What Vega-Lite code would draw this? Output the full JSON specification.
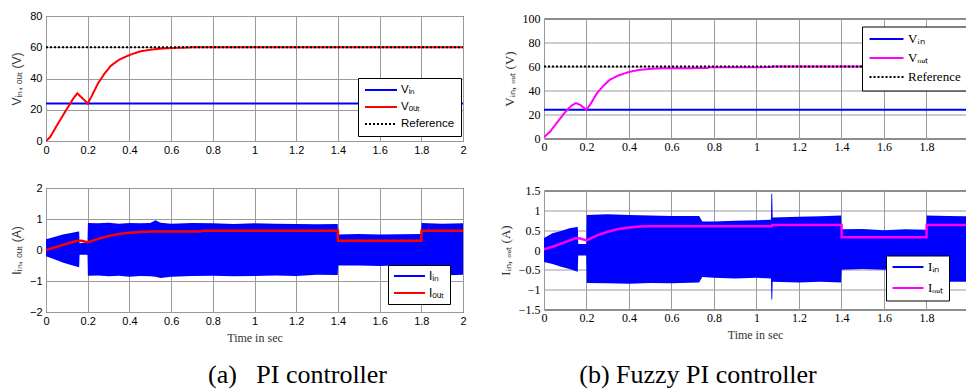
{
  "$schema": "https://vega.github.io/schema/vega-lite/v6.json",
  "background": "white",
  "padding": {"left": 9, "top": 9, "right": 0, "bottom": 0},
  "datasets": {
    "v_pi": [
      {"t": 0, "v": 24, "s": "Vᵢₙ"}, {"t": 2, "v": 24, "s": "Vᵢₙ"},
      {"t": 0, "v": 0, "s": "Vₒᵤₜ"}, {"t": 0.02, "v": 2.5, "s": "Vₒᵤₜ"}, {"t": 0.05, "v": 9.5, "s": "Vₒᵤₜ"}, {"t": 0.1, "v": 20.5, "s": "Vₒᵤₜ"},
      {"t": 0.13, "v": 27, "s": "Vₒᵤₜ"}, {"t": 0.15, "v": 30.5, "s": "Vₒᵤₜ"}, {"t": 0.17, "v": 28, "s": "Vₒᵤₜ"}, {"t": 0.2, "v": 24, "s": "Vₒᵤₜ"},
      {"t": 0.22, "v": 29, "s": "Vₒᵤₜ"}, {"t": 0.25, "v": 37, "s": "Vₒᵤₜ"}, {"t": 0.28, "v": 43, "s": "Vₒᵤₜ"}, {"t": 0.31, "v": 48, "s": "Vₒᵤₜ"},
      {"t": 0.35, "v": 52, "s": "Vₒᵤₜ"}, {"t": 0.4, "v": 55, "s": "Vₒᵤₜ"}, {"t": 0.45, "v": 57.3, "s": "Vₒᵤₜ"}, {"t": 0.5, "v": 58.4, "s": "Vₒᵤₜ"},
      {"t": 0.55, "v": 59.1, "s": "Vₒᵤₜ"}, {"t": 0.6, "v": 59.5, "s": "Vₒᵤₜ"}, {"t": 0.68, "v": 59.8, "s": "Vₒᵤₜ"}, {"t": 0.7, "v": 60, "s": "Vₒᵤₜ"}, {"t": 2, "v": 60, "s": "Vₒᵤₜ"},
      {"t": 0, "v": 60, "s": "Reference"}, {"t": 2, "v": 60, "s": "Reference"}
    ],
    "v_fz": [
      {"t": 0, "v": 24, "s": "Vᵢₙ"}, {"t": 2, "v": 24, "s": "Vᵢₙ"},
      {"t": 0, "v": 1, "s": "Vₒᵤₜ"}, {"t": 0.03, "v": 6, "s": "Vₒᵤₜ"}, {"t": 0.06, "v": 13, "s": "Vₒᵤₜ"}, {"t": 0.1, "v": 22, "s": "Vₒᵤₜ"},
      {"t": 0.13, "v": 27.5, "s": "Vₒᵤₜ"}, {"t": 0.15, "v": 29.5, "s": "Vₒᵤₜ"}, {"t": 0.17, "v": 28, "s": "Vₒᵤₜ"}, {"t": 0.2, "v": 24, "s": "Vₒᵤₜ"},
      {"t": 0.22, "v": 29, "s": "Vₒᵤₜ"}, {"t": 0.25, "v": 38, "s": "Vₒᵤₜ"}, {"t": 0.28, "v": 44, "s": "Vₒᵤₜ"}, {"t": 0.31, "v": 49, "s": "Vₒᵤₜ"},
      {"t": 0.35, "v": 52.5, "s": "Vₒᵤₜ"}, {"t": 0.4, "v": 55.5, "s": "Vₒᵤₜ"}, {"t": 0.45, "v": 57.2, "s": "Vₒᵤₜ"}, {"t": 0.5, "v": 58, "s": "Vₒᵤₜ"},
      {"t": 0.55, "v": 58.5, "s": "Vₒᵤₜ"}, {"t": 0.77, "v": 58.7, "s": "Vₒᵤₜ"}, {"t": 0.775, "v": 59.3, "s": "Vₒᵤₜ"}, {"t": 1.07, "v": 59.5, "s": "Vₒᵤₜ"},
      {"t": 1.075, "v": 60, "s": "Vₒᵤₜ"}, {"t": 2, "v": 60, "s": "Vₒᵤₜ"},
      {"t": 0, "v": 60, "s": "Reference"}, {"t": 2, "v": 60, "s": "Reference"}
    ],
    "iout_pi": [
      {"t": 0, "i": 0, "s": "Iₒᵤₜ"}, {"t": 0.05, "i": 0.1, "s": "Iₒᵤₜ"}, {"t": 0.1, "i": 0.2, "s": "Iₒᵤₜ"}, {"t": 0.15, "i": 0.3, "s": "Iₒᵤₜ"},
      {"t": 0.17, "i": 0.3, "s": "Iₒᵤₜ"}, {"t": 0.2, "i": 0.25, "s": "Iₒᵤₜ"}, {"t": 0.25, "i": 0.36, "s": "Iₒᵤₜ"}, {"t": 0.3, "i": 0.45, "s": "Iₒᵤₜ"},
      {"t": 0.35, "i": 0.52, "s": "Iₒᵤₜ"}, {"t": 0.4, "i": 0.56, "s": "Iₒᵤₜ"}, {"t": 0.45, "i": 0.58, "s": "Iₒᵤₜ"}, {"t": 0.5, "i": 0.6, "s": "Iₒᵤₜ"},
      {"t": 0.74, "i": 0.6, "s": "Iₒᵤₜ"}, {"t": 0.75, "i": 0.62, "s": "Iₒᵤₜ"}, {"t": 1.4, "i": 0.62, "s": "Iₒᵤₜ"}, {"t": 1.401, "i": 0.3, "s": "Iₒᵤₜ"},
      {"t": 1.8, "i": 0.3, "s": "Iₒᵤₜ"}, {"t": 1.801, "i": 0.62, "s": "Iₒᵤₜ"}, {"t": 2, "i": 0.62, "s": "Iₒᵤₜ"}
    ],
    "iout_fz": [
      {"t": 0, "i": 0.02, "s": "Iₒᵤₜ"}, {"t": 0.05, "i": 0.1, "s": "Iₒᵤₜ"}, {"t": 0.1, "i": 0.2, "s": "Iₒᵤₜ"}, {"t": 0.15, "i": 0.3, "s": "Iₒᵤₜ"},
      {"t": 0.17, "i": 0.29, "s": "Iₒᵤₜ"}, {"t": 0.2, "i": 0.24, "s": "Iₒᵤₜ"}, {"t": 0.25, "i": 0.37, "s": "Iₒᵤₜ"}, {"t": 0.3, "i": 0.46, "s": "Iₒᵤₜ"},
      {"t": 0.35, "i": 0.53, "s": "Iₒᵤₜ"}, {"t": 0.4, "i": 0.57, "s": "Iₒᵤₜ"}, {"t": 0.45, "i": 0.59, "s": "Iₒᵤₜ"}, {"t": 0.5, "i": 0.6, "s": "Iₒᵤₜ"},
      {"t": 1.07, "i": 0.6, "s": "Iₒᵤₜ"}, {"t": 1.075, "i": 0.63, "s": "Iₒᵤₜ"}, {"t": 1.4, "i": 0.63, "s": "Iₒᵤₜ"}, {"t": 1.401, "i": 0.32, "s": "Iₒᵤₜ"},
      {"t": 1.8, "i": 0.32, "s": "Iₒᵤₜ"}, {"t": 1.801, "i": 0.63, "s": "Iₒᵤₜ"}, {"t": 2, "i": 0.63, "s": "Iₒᵤₜ"}
    ],
    "iin_pi": [
      {"t": 0, "i": -0.2, "hi": 0.35}, {"t": 0.04, "i": -0.3, "hi": 0.42}, {"t": 0.08, "i": -0.4, "hi": 0.5}, {"t": 0.12, "i": -0.48, "hi": 0.55},
      {"t": 0.155, "i": -0.55, "hi": 0.6}, {"t": 0.159, "i": -0.56, "hi": 0.6}, {"t": 0.161, "i": -0.15, "hi": 0.22}, {"t": 0.199, "i": -0.15, "hi": 0.25},
      {"t": 0.201, "i": -0.83, "hi": 0.87}, {"t": 0.25, "i": -0.82, "hi": 0.86}, {"t": 0.3, "i": -0.85, "hi": 0.88}, {"t": 0.35, "i": -0.83, "hi": 0.85},
      {"t": 0.4, "i": -0.86, "hi": 0.87}, {"t": 0.45, "i": -0.84, "hi": 0.86}, {"t": 0.5, "i": -0.85, "hi": 0.87}, {"t": 0.525, "i": -0.86, "hi": 0.96},
      {"t": 0.55, "i": -0.9, "hi": 0.88}, {"t": 0.6, "i": -0.86, "hi": 0.85}, {"t": 0.7, "i": -0.84, "hi": 0.87}, {"t": 0.8, "i": -0.83, "hi": 0.86},
      {"t": 0.9, "i": -0.85, "hi": 0.84}, {"t": 1.0, "i": -0.84, "hi": 0.86}, {"t": 1.1, "i": -0.82, "hi": 0.85}, {"t": 1.2, "i": -0.84, "hi": 0.84},
      {"t": 1.3, "i": -0.8, "hi": 0.83}, {"t": 1.399, "i": -0.81, "hi": 0.84}, {"t": 1.401, "i": -0.5, "hi": 0.5}, {"t": 1.5, "i": -0.5, "hi": 0.52},
      {"t": 1.6, "i": -0.52, "hi": 0.5}, {"t": 1.7, "i": -0.49, "hi": 0.51}, {"t": 1.799, "i": -0.5, "hi": 0.52}, {"t": 1.801, "i": -0.8, "hi": 0.87},
      {"t": 1.9, "i": -0.82, "hi": 0.85}, {"t": 2, "i": -0.8, "hi": 0.86}
    ],
    "iin_fz": [
      {"t": 0, "i": -0.3, "hi": 0.3}, {"t": 0.04, "i": -0.35, "hi": 0.42}, {"t": 0.08, "i": -0.42, "hi": 0.48}, {"t": 0.12, "i": -0.48, "hi": 0.55},
      {"t": 0.155, "i": -0.54, "hi": 0.58}, {"t": 0.159, "i": -0.55, "hi": 0.58}, {"t": 0.161, "i": -0.14, "hi": 0.15}, {"t": 0.199, "i": -0.14, "hi": 0.15},
      {"t": 0.201, "i": -0.83, "hi": 0.88}, {"t": 0.3, "i": -0.84, "hi": 0.9}, {"t": 0.4, "i": -0.85, "hi": 0.88}, {"t": 0.5, "i": -0.83, "hi": 0.87},
      {"t": 0.6, "i": -0.84, "hi": 0.86}, {"t": 0.73, "i": -0.82, "hi": 0.86}, {"t": 0.745, "i": -0.68, "hi": 0.72}, {"t": 0.8, "i": -0.7, "hi": 0.72},
      {"t": 0.9, "i": -0.72, "hi": 0.74}, {"t": 1.0, "i": -0.7, "hi": 0.75}, {"t": 1.068, "i": -0.72, "hi": 0.76}, {"t": 1.07, "i": -1.25, "hi": 1.42},
      {"t": 1.074, "i": -1.25, "hi": 1.42}, {"t": 1.076, "i": -0.8, "hi": 0.82}, {"t": 1.2, "i": -0.82, "hi": 0.84}, {"t": 1.3, "i": -0.8, "hi": 0.85},
      {"t": 1.398, "i": -0.82, "hi": 0.87}, {"t": 1.401, "i": -0.5, "hi": 0.52}, {"t": 1.5, "i": -0.48, "hi": 0.53}, {"t": 1.6, "i": -0.5, "hi": 0.5},
      {"t": 1.7, "i": -0.48, "hi": 0.52}, {"t": 1.798, "i": -0.5, "hi": 0.51}, {"t": 1.801, "i": -0.82, "hi": 0.87}, {"t": 1.9, "i": -0.8, "hi": 0.86},
      {"t": 1.99, "i": -0.8, "hi": 0.85}
    ]
  },
  "vconcat": [
    {
      "vconcat": [
        {
          "hconcat": [
            {
              "width": 417, "height": 125,
              "data": {"name": "v_pi"},
              "mark": {"type": "line", "strokeWidth": 2, "clip": true},
              "encoding": {
                "x": {"field": "t", "type": "quantitative", "scale": {"domain": [0, 2], "nice": false, "zero": false},
                  "axis": {"values": [0, 0.2, 0.4, 0.6, 0.8, 1, 1.2, 1.4, 1.6, 1.8, 2], "format": ".1~f", "title": null, "labelFont": "Liberation Sans", "labelFontSize": 11, "labelPadding": 3, "labelFlush": false, "labelOverlap": false}},
                "y": {"field": "v", "type": "quantitative", "scale": {"domain": [0, 80], "nice": false},
                  "axis": {"values": [0, 20, 40, 60, 80], "format": "d", "title": "Vᵢₙ, ₒᵤₜ (V)", "titleFont": "Liberation Sans", "titleFontSize": 12, "titleFontWeight": "normal", "titlePadding": 6, "labelFont": "Liberation Sans", "labelFontSize": 11, "labelPadding": 4, "labelFlush": false, "labelOverlap": false}},
                "color": {"field": "s", "type": "nominal", "scale": {"domain": ["Vᵢₙ", "Vₒᵤₜ", "Reference"], "range": ["#0000ff", "#ff0000", "#000000"]},
                  "legend": {"title": null, "orient": "none", "legendX": 312, "legendY": 62, "fillColor": "white", "strokeColor": "black", "padding": 6, "symbolType": "M-1,0H5.4", "symbolSize": 100, "symbolStrokeWidth": 2, "labelFont": "Liberation Sans", "labelFontSize": 11.5, "rowPadding": 5, "labelOffset": 25}},
                "strokeDash": {"field": "s", "type": "nominal", "scale": {"domain": ["Vᵢₙ", "Vₒᵤₜ", "Reference"], "range": [[1, 0], [1, 0], [2, 2]]},
                  "legend": {"title": null, "orient": "none", "legendX": 312, "legendY": 62, "fillColor": "white", "strokeColor": "black", "padding": 6, "symbolType": "M-1,0H5.4", "symbolSize": 100, "symbolStrokeWidth": 2, "labelFont": "Liberation Sans", "labelFontSize": 11.5, "rowPadding": 5, "labelOffset": 25}}
              }
            },
            {
              "width": 422, "height": 120,
              "data": {"name": "v_fz"},
              "mark": {"type": "line", "strokeWidth": 2, "clip": true},
              "encoding": {
                "x": {"field": "t", "type": "quantitative", "scale": {"domain": [0, 1.986], "nice": false, "zero": false},
                  "axis": {"values": [0, 0.2, 0.4, 0.6, 0.8, 1, 1.2, 1.4, 1.6, 1.8], "format": ".1~f", "title": null, "labelFont": "Liberation Serif", "labelFontSize": 12, "labelPadding": 3, "labelFlush": false, "labelOverlap": false}},
                "y": {"field": "v", "type": "quantitative", "scale": {"domain": [0, 100], "nice": false},
                  "axis": {"values": [0, 20, 40, 60, 80, 100], "format": "d", "title": "Vᵢₙ, ₒᵤₜ (V)", "titleFont": "Liberation Serif", "titleFontSize": 13, "titleFontWeight": "normal", "titlePadding": 6, "labelFont": "Liberation Serif", "labelFontSize": 12, "labelPadding": 4, "labelFlush": false, "labelOverlap": false}},
                "color": {"field": "s", "type": "nominal", "scale": {"domain": ["Vᵢₙ", "Vₒᵤₜ", "Reference"], "range": ["#0000ff", "#ff00ff", "#000000"]},
                  "legend": {"title": null, "orient": "none", "legendX": 318, "legendY": 8, "fillColor": "white", "strokeColor": "black", "padding": 6, "symbolType": "M-1,0H5.8", "symbolSize": 100, "symbolStrokeWidth": 2, "labelFont": "Liberation Serif", "labelFontSize": 13, "rowPadding": 5, "labelOffset": 27}},
                "strokeDash": {"field": "s", "type": "nominal", "scale": {"domain": ["Vᵢₙ", "Vₒᵤₜ", "Reference"], "range": [[1, 0], [1, 0], [2, 2]]},
                  "legend": {"title": null, "orient": "none", "legendX": 318, "legendY": 8, "fillColor": "white", "strokeColor": "black", "padding": 6, "symbolType": "M-1,0H5.8", "symbolSize": 100, "symbolStrokeWidth": 2, "labelFont": "Liberation Serif", "labelFontSize": 13, "rowPadding": 5, "labelOffset": 27}}
              }
            }
          ],
          "spacing": 81,
          "bounds": "flush",
          "center": true,
          "resolve": {"scale": {"x": "independent", "y": "independent", "color": "independent", "strokeDash": "independent"}, "legend": {"color": "independent", "strokeDash": "independent"}}
        },
        {
          "hconcat": [
            {
              "width": 417, "height": 124,
              "encoding": {
                "x": {"field": "t", "type": "quantitative", "scale": {"domain": [0, 2], "nice": false, "zero": false},
                  "axis": {"values": [0, 0.2, 0.4, 0.6, 0.8, 1, 1.2, 1.4, 1.6, 1.8, 2], "format": ".1~f", "title": "Time in sec", "titleFont": "Liberation Serif", "titleFontSize": 12, "titleFontWeight": "normal", "titlePadding": 6, "labelFont": "Liberation Sans", "labelFontSize": 11, "labelPadding": 3, "labelFlush": false, "labelOverlap": false}},
                "y": {"field": "i", "type": "quantitative", "scale": {"domain": [-2, 2], "nice": false, "zero": false},
                  "axis": {"values": [-2, -1, 0, 1, 2], "format": "d", "title": "Iᵢₙ, ₒᵤₜ (A)", "titleFont": "Liberation Sans", "titleFontSize": 12, "titleFontWeight": "normal", "titlePadding": 6, "labelFont": "Liberation Sans", "labelFontSize": 11, "labelPadding": 4, "labelFlush": false, "labelOverlap": false}}
              },
              "layer": [
                {
                  "data": {"name": "iin_pi"},
                  "mark": {"type": "area", "color": "#0000ff", "opacity": 1},
                  "encoding": {"y2": {"field": "hi"}}
                },
                {
                  "data": {"name": "iout_pi"},
                  "mark": {"type": "line", "strokeWidth": 2.5},
                  "encoding": {
                    "color": {"field": "s", "type": "nominal", "scale": {"domain": ["Iᵢₙ", "Iₒᵤₜ"], "range": ["#0000ff", "#ff0000"]},
                      "legend": {"title": null, "orient": "none", "legendX": 342, "legendY": 77, "fillColor": "white", "strokeColor": "black", "padding": 5, "symbolType": "M-1,0H5.2", "symbolSize": 100, "symbolStrokeWidth": 2, "labelFont": "Liberation Sans", "labelFontSize": 12, "rowPadding": 5, "labelOffset": 24}}
                  }
                }
              ]
            },
            {
              "width": 422, "height": 119,
              "encoding": {
                "x": {"field": "t", "type": "quantitative", "scale": {"domain": [0, 1.986], "nice": false, "zero": false},
                  "axis": {"values": [0, 0.2, 0.4, 0.6, 0.8, 1, 1.2, 1.4, 1.6, 1.8], "format": ".1~f", "title": "Time in sec", "titleFont": "Liberation Serif", "titleFontSize": 12, "titleFontWeight": "normal", "titlePadding": 6, "labelFont": "Liberation Serif", "labelFontSize": 12, "labelPadding": 3, "labelFlush": false, "labelOverlap": false}},
                "y": {"field": "i", "type": "quantitative", "scale": {"domain": [-1.5, 1.5], "nice": false, "zero": false},
                  "axis": {"values": [-1.5, -1, -0.5, 0, 0.5, 1, 1.5], "format": ".1~f", "title": "Iᵢₙ, ₒᵤₜ (A)", "titleFont": "Liberation Serif", "titleFontSize": 13, "titleFontWeight": "normal", "titlePadding": 6, "labelFont": "Liberation Serif", "labelFontSize": 12, "labelPadding": 4, "labelFlush": false, "labelOverlap": false}}
              },
              "layer": [
                {
                  "data": {"name": "iin_fz"},
                  "mark": {"type": "area", "color": "#0000ff", "opacity": 1, "clip": true},
                  "encoding": {"y2": {"field": "hi"}}
                },
                {
                  "data": {"name": "iout_fz"},
                  "mark": {"type": "line", "strokeWidth": 2.5, "clip": true},
                  "encoding": {
                    "color": {"field": "s", "type": "nominal", "scale": {"domain": ["Iᵢₙ", "Iₒᵤₜ"], "range": ["#0000ff", "#ff00ff"]},
                      "legend": {"title": null, "orient": "none", "legendX": 342, "legendY": 65, "fillColor": "white", "strokeColor": "black", "padding": 5, "symbolType": "M-1,0H5.2", "symbolSize": 100, "symbolStrokeWidth": 2, "labelFont": "Liberation Serif", "labelFontSize": 13, "rowPadding": 7, "labelOffset": 24}}
                  }
                }
              ]
            }
          ],
          "spacing": 81,
          "bounds": "flush",
          "center": true,
          "resolve": {"scale": {"x": "independent", "y": "independent", "color": "independent"}, "legend": {"color": "independent"}}
        }
      ],
      "spacing": 25,
      "resolve": {"scale": {"x": "independent", "y": "independent", "color": "independent", "strokeDash": "independent"}, "legend": {"color": "independent", "strokeDash": "independent"}}
    },
    {
      "hconcat": [
        {
          "width": 417, "height": 14,
          "view": {"stroke": null},
          "data": {"values": [{"c": "(a)\u00a0\u00a0\u00a0PI controller"}]},
          "mark": {"type": "text", "font": "Liberation Serif", "fontSize": 26, "baseline": "alphabetic", "dx": 43, "dy": -11, "color": "black"},
          "encoding": {"text": {"field": "c", "type": "nominal"}}
        },
        {
          "width": 422, "height": 14,
          "view": {"stroke": null},
          "data": {"values": [{"c": "(b) Fuzzy PI controller"}]},
          "mark": {"type": "text", "font": "Liberation Serif", "fontSize": 26, "baseline": "alphabetic", "dx": -57, "dy": -11, "color": "black"},
          "encoding": {"text": {"field": "c", "type": "nominal"}}
        }
      ],
      "spacing": 81,
      "bounds": "flush"
    }
  ],
  "spacing": 18,
  "resolve": {"scale": {"x": "independent", "y": "independent", "color": "independent", "strokeDash": "independent"}, "legend": {"color": "independent", "strokeDash": "independent"}},
  "config": {
    "view": {"stroke": "black", "strokeWidth": 1},
    "axis": {"grid": true, "gridColor": "#9a9a9a", "gridWidth": 1, "domain": false, "ticks": false, "labelColor": "black", "titleColor": "#333333"},
    "legend": {"labelColor": "black"}
  }
}
